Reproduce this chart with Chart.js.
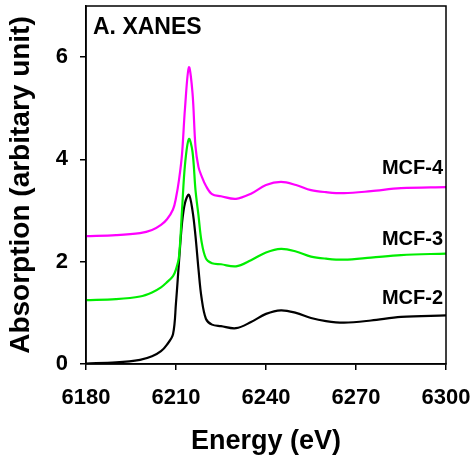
<!DOCTYPE html>
<html lang="en">
<head>
  <meta charset="UTF-8">
  <title>A. XANES</title>
  <script src="https://cdn.jsdelivr.net/npm/chart.js"></script>
</head>
<style>
  body { margin: 0; background: #fff; }
  .chart-container { width: 472px; height: 462px; }
</style>
<body>
  <div class="chart-container">
    <canvas id="chartCanvas" width="472" height="462"></canvas>
  </div>

  <script>
    // energy (eV) shared by all three spectra
    const energy = [6180, 6190, 6198, 6202, 6205, 6207, 6209, 6210, 6211, 6212, 6213, 6214.3, 6215.5, 6216.5, 6217.5, 6218.5, 6220, 6222, 6225, 6230, 6235, 6240, 6245, 6250, 6255, 6260, 6266, 6275, 6285, 6300];

    const mcf2 = [0.01, 0.03, 0.08, 0.15, 0.25, 0.38, 0.58, 1.2, 2.0, 2.75, 3.15, 3.31, 3.0, 2.5, 1.85, 1.3, 0.88, 0.77, 0.74, 0.70, 0.82, 0.98, 1.05, 1.0, 0.9, 0.84, 0.81, 0.85, 0.92, 0.95];
    const mcf3 = [1.25, 1.27, 1.32, 1.4, 1.5, 1.6, 1.72, 1.85, 2.1, 3.0, 3.9, 4.4, 4.15, 3.4, 2.9, 2.4, 2.06, 1.97, 1.95, 1.91, 2.03, 2.18, 2.25, 2.2, 2.1, 2.06, 2.04, 2.08, 2.13, 2.16];
    const mcf4 = [2.5, 2.52, 2.56, 2.62, 2.72, 2.83, 3.02, 3.25, 3.6, 4.1, 5.0, 5.8, 5.3, 4.25, 3.85, 3.68, 3.48, 3.32, 3.28, 3.23, 3.33, 3.5, 3.56, 3.5, 3.4, 3.36, 3.34, 3.38, 3.44, 3.46];

    const xTicks = [6180, 6210, 6240, 6270, 6300];
    const yTicks = [0, 2, 4, 6];

    const seriesNames = ['MCF-2', 'MCF-3', 'MCF-4'];
    const seriesColors = ['#000000', '#00ee00', '#ff00ff'];
    const labelY = [1.29, 2.43, 3.82];

    const FONT = "'Liberation Sans', Arial, sans-serif";

    const toPoints = (ys) => energy.map((e, i) => ({ x: e, y: ys[i] }));

    // frame round the plot plus curve names and the panel title
    const extras = {
      id: 'extras',
      afterDraw(chart) {
        const c = chart.ctx;
        const a = chart.chartArea;
        const xs = chart.scales.x, ys = chart.scales.y;
        c.save();
        c.strokeStyle = '#000';
        c.lineWidth = 1.5;
        c.strokeRect(a.left, a.top, a.right - a.left, a.bottom - a.top);

        c.fillStyle = '#000';
        c.font = 'bold 20px ' + FONT;
        c.textAlign = 'right';
        c.textBaseline = 'middle';
        seriesNames.forEach((n, i) => {
          c.fillText(n, xs.getPixelForValue(6299), ys.getPixelForValue(labelY[i]));
        });

        c.font = 'bold 23px ' + FONT;
        c.textAlign = 'left';
        c.fillText('A. XANES', a.left + 7, a.top + 22);
        c.restore();
      }
    };

    const ctx = document.getElementById('chartCanvas').getContext('2d');
    const chart = new Chart(ctx, {
      type: 'scatter',
      data: {
        datasets: [mcf4, mcf3, mcf2].map((ys, k) => ({
          label: seriesNames[2 - k],
          data: toPoints(ys),
          showLine: true,
          borderColor: seriesColors[2 - k],
          borderWidth: 2.2,
          pointRadius: 0,
          tension: 0.35,
          fill: false
        }))
      },
      options: {
        responsive: false,
        animation: { duration: 0 },
        layout: { padding: { top: 6, right: 26, left: 0, bottom: 0 } },
        plugins: { legend: { display: false }, tooltip: { enabled: false } },
        scales: {
          x: {
            type: 'linear',
            min: 6180,
            max: 6300,
            afterBuildTicks: (s) => { s.ticks = xTicks.map(v => ({ value: v })); },
            afterFit: (s) => { s.height = 98; s.paddingLeft = 0; s.paddingRight = 0; },
            grid: { drawOnChartArea: false, drawTicks: true, tickLength: 6, color: '#000', lineWidth: 1.5 },
            border: { display: true, color: '#000', width: 1.5 },
            ticks: { color: '#000', padding: 15, maxRotation: 0, callback: (v) => String(v), font: { family: FONT, size: 22, weight: 'bold' } },
            title: { display: true, text: 'Energy (eV)', color: '#000', padding: { top: 14 }, font: { family: FONT, size: 27, weight: 'bold' } }
          },
          y: {
            min: 0,
            max: 7,
            afterBuildTicks: (s) => { s.ticks = yTicks.map(v => ({ value: v })); },
            afterFit: (s) => { s.width = 86; s.paddingTop = 0; s.paddingBottom = 0; },
            grid: { drawOnChartArea: false, drawTicks: true, tickLength: 6, color: '#000', lineWidth: 1.5 },
            border: { display: true, color: '#000', width: 1.5 },
            ticks: { color: '#000', padding: 12, font: { family: FONT, size: 22, weight: 'bold' } },
            title: { display: true, text: 'Absorption (arbitary unit)', color: '#000', padding: { top: 4, bottom: 4 }, font: { family: FONT, size: 28, weight: 'bold' } }
          }
        }
      },
      plugins: [extras]
    });
  </script>
</body>
</html>
